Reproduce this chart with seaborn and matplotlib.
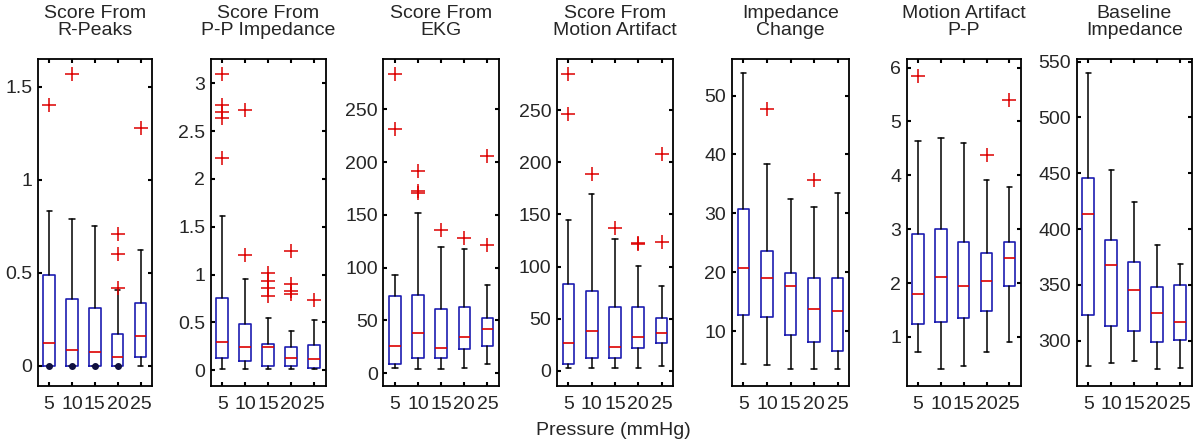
import numpy as np
import matplotlib.pyplot as plt
import seaborn as sns

sns.set_style("white")
plt.rcParams['font.family'] = ['Liberation Sans', 'DejaVu Sans']

# Pressure levels (x categories)
pressures = ['5', '10', '15', '20', '25']

titles = ['Score From\nR-Peaks', 'Score From\nP-P Impedance', 'Score From\nEKG',
          'Score From\nMotion Artifact', 'Impedance\nChange', 'Motion Artifact\nP-P',
          'Baseline\nImpedance']

# Box statistics, one list per panel (5 pressures each)
q1 = [[0, 0, 0, 0, 0.047],
      [0.13, 0.094, 0.05, 0.05, 0.025],
      [8.9, 14.6, 14.6, 22.8, 26],
      [7, 12.8, 12.8, 22.4, 26.6],
      [12.8, 12.4, 9.4, 8.2, 6.7],
      [1.25, 1.285, 1.36, 1.49, 1.94],
      [323.3, 313.5, 308.7, 299, 300.9]]
medians = [[0.124, 0.082, 0.073, 0.047, 0.158],
           [0.30, 0.24, 0.24, 0.13, 0.115],
           [26, 38.3, 24, 34.5, 41.8],
           [26.5, 38.7, 22.7, 33, 36.6],
           [20.65, 19.1, 17.6, 13.8, 13.5],
           [1.79, 2.11, 1.94, 2.03, 2.47],
           [413.9, 368.2, 344.9, 325, 317]]
q3 = [[0.49, 0.357, 0.308, 0.168, 0.335],
      [0.76, 0.488, 0.28, 0.24, 0.26],
      [73.4, 74.4, 60.8, 63, 52.2],
      [83.4, 76.7, 61.7, 61.7, 51],
      [30.8, 23.65, 19.9, 19.1, 19.1],
      [2.92, 3.0, 2.77, 2.56, 2.77],
      [445.9, 390.6, 370.6, 348.4, 350.2]]
whisk_lo = [[0, 0, 0, 0, 0],
            [0.014, 0.014, 0.014, 0.014, 0.014],
            [5, 4, 4, 5, 8.9],
            [2.6, 2.6, 2.6, 3.2, 5.1],
            [4.5, 4.2, 3.6, 3.6, 3.6],
            [0.715, 0.41, 0.47, 0.715, 0.91],
            [277.6, 279.7, 281.5, 274.9, 275.8]]
whisk_hi = [[0.832, 0.789, 0.749, 0.405, 0.62],
            [1.61, 0.95, 0.55, 0.41, 0.53],
            [93.4, 152, 119.6, 118, 83.5],
            [145, 170, 126.6, 100.7, 81],
            [53.9, 38.3, 32.4, 31.1, 33.4],
            [4.64, 4.70, 4.61, 3.92, 3.79],
            [540, 452.5, 423.8, 386, 369]]
outliers = [[[1.40], [1.57], [], [0.42, 0.60, 0.71], [1.276]],
            [[2.22, 2.64, 2.70, 2.77, 3.10], [1.21, 2.72], [0.78, 0.86, 0.93, 1.02],
             [0.80, 0.83, 0.90, 1.25], [0.74]],
            [[231.6, 284], [171, 173, 192], [135.4], [128.5], [121, 206]],
            [[246, 285], [188.6], [137], [121.5, 123], [124, 207.8]],
            [[], [47.8], [], [35.7], []],
            [[5.84], [], [], [4.37], [5.39]],
            [[], [], [], [], []]]
# dark markers sitting at zero in the R-Peaks panel
rpeak_zero_marks = [0, 0, 0, 0]

ylims = [(-0.11, 1.65), (-0.164, 3.254), (-12.3, 297.8), (-14.4, 299),
         (0.71, 56.2), (0.09, 6.16), (259.3, 552.4)]
yticks = [[0, 0.5, 1, 1.5], [0, 0.5, 1, 1.5, 2, 2.5, 3],
          [0, 50, 100, 150, 200, 250], [0, 50, 100, 150, 200, 250],
          [10, 20, 30, 40, 50], [1, 2, 3, 4, 5, 6],
          [300, 350, 400, 450, 500, 550]]
ytick_labels = [['0', '0.5', '1', '1.5'], ['0', '0.5', '1', '1.5', '2', '2.5', '3'],
                None, None, None, None, None]

W, H = 1199, 444
fig = plt.figure(figsize=(W / 100, H / 100), dpi=100)

lefts = [37.7, 210.7, 383.3, 556.7, 731.7, 906.7, 1076.7]
rights = [152, 325.7, 499, 673.3, 849.3, 1020.7, 1191.7]
top, bottom = 59, 386

box_blue = '#1c1cb0'
fs = 14

for i in range(7):
    ax = fig.add_axes([lefts[i] / W, 1 - bottom / H, (rights[i] - lefts[i]) / W, (bottom - top) / H])
    stats = []
    for j in range(5):
        stats.append(dict(med=medians[i][j], q1=q1[i][j], q3=q3[i][j],
                          whislo=whisk_lo[i][j], whishi=whisk_hi[i][j],
                          fliers=outliers[i][j]))
    ax.bxp(stats, positions=range(1, 6), widths=0.5, capwidths=0.23,
           boxprops=dict(color=box_blue, linewidth=1.2),
           medianprops=dict(color='#dd0000', linewidth=1.2),
           whiskerprops=dict(color='black', linewidth=1.1),
           capprops=dict(color='black', linewidth=1.1),
           flierprops=dict(marker='+', markeredgecolor='#dd0000', markersize=10,
                           markeredgewidth=1.1, linestyle='none'))
    if i == 0:
        ax.plot(range(1, 5), rpeak_zero_marks, 'o', color='#101040', markersize=4, zorder=5)

    ax.set_xlim(0.5, 5.5)
    ax.set_ylim(*ylims[i])
    ax.set_xticks(range(1, 6))
    ax.set_xticklabels(pressures)
    ax.set_yticks(yticks[i])
    if ytick_labels[i] is not None:
        ax.set_yticklabels(ytick_labels[i])
    ax.tick_params(axis='both', direction='in', length=3, width=1.5, color='black',
                   labelsize=fs, top=True, right=True, left=True, bottom=True)
    ax.tick_params(axis='x', pad=7)
    ax.tick_params(axis='y', pad=4)
    for sp in ax.spines.values():
        sp.set_color('black')
        sp.set_linewidth(1.3)
        sp.set_visible(True)
    ax.set_title(titles[i], fontsize=fs, pad=17, linespacing=1.05)

fig.text(613 / W, 1 - 430 / H, 'Pressure (mmHg)', ha='center', va='center', fontsize=fs)

fig.savefig('out.png', dpi=100)
